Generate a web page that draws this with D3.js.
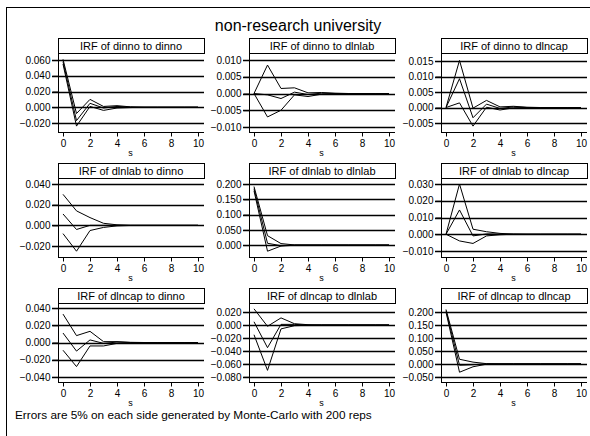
<!DOCTYPE html>
<html>
<head>
<meta charset="utf-8">
<script src="https://cdn.jsdelivr.net/npm/d3@7"></script>
<style>
  body { margin: 0; background: #fff; }
  svg text { font-family: "Liberation Sans", Arial, sans-serif; fill: #000; }
</style>
</head>
<body>
<div id="chart"></div>
<script>
// horizon steps
var steps = [0, 1, 2, 3, 4, 5, 6, 7, 8, 9, 10];
var xTicks = [0, 2, 4, 6, 8, 10];

var panelTitles = [
    "IRF of dinno to dinno", "IRF of dinno to dlnlab", "IRF of dinno to dlncap",
    "IRF of dlnlab to dinno", "IRF of dlnlab to dlnlab", "IRF of dlnlab to dlncap",
    "IRF of dlncap to dinno", "IRF of dlncap to dlnlab", "IRF of dlncap to dlncap"
];

// upper bound, irf, lower bound for each panel
var upper = [
    [0.061, -0.008, 0.010, 0.001, 0.002, 0.0005, 0, 0, 0, 0, 0],
    [0, 0.0085, 0.0015, 0.0017, 0.0002, 0.0003, 0.0001, 0, 0, 0, 0],
    [0, 0.0152, -0.0002, 0.0023, 0.0002, 0.0004, 0.0001, 0, 0, 0, 0],
    [0.030, 0.014, 0.0075, 0.002, 0.0005, 0.0001, 0, 0, 0, 0, 0],
    [0.192, 0.031, 0.005, 0.0005, 0, 0, 0, 0, 0, 0, 0],
    [0, 0.030, 0.003, 0.0015, 0.0005, 0.0001, 0, 0, 0, 0, 0],
    [0.033, 0.008, 0.013, 0.001, 0.001, 0.0002, 0, 0, 0, 0, 0],
    [0.025, -0.002, 0.011, 0.002, 0.0005, 0, 0, 0, 0, 0, 0],
    [0.210, 0.018, 0.007, 0.001, 0, 0, 0, 0, 0, 0, 0]
];
var irf = [
    [0.058, -0.017, 0.005, -0.001, 0.001, 0.0002, 0, 0, 0, 0, 0],
    [0, -0.0004, -0.0015, 0.0004, -0.0003, 0.0001, 0, 0, 0, 0, 0],
    [0, 0.0093, -0.0033, 0.0011, -0.0003, 0.0002, 0, 0, 0, 0, 0],
    [0.011, -0.004, 0.000, 0.000, 0.0001, 0, 0, 0, 0, 0, 0],
    [0.185, 0.006, -0.002, 0, 0, 0, 0, 0, 0, 0, 0],
    [0, 0.0145, -0.001, 0.0002, 0.0001, 0, 0, 0, 0, 0, 0],
    [0.011, -0.010, 0.003, -0.001, 0.0005, 0, 0, 0, 0, 0, 0],
    [0.005, -0.035, 0.001, 0.001, 0, 0, 0, 0, 0, 0, 0],
    [0.205, -0.005, -0.003, 0.0003, 0, 0, 0, 0, 0, 0, 0]
];
var lower = [
    [0.055, -0.024, 0.001, -0.004, -0.001, -0.0004, 0, 0, 0, 0, 0],
    [0, -0.007, -0.005, -0.0004, -0.0009, -0.0002, 0, 0, 0, 0, 0],
    [0, 0.0015, -0.006, 0.0001, -0.0008, -0.0001, 0, 0, 0, 0, 0],
    [-0.008, -0.025, -0.005, -0.002, -0.0005, -0.0001, 0, 0, 0, 0, 0],
    [0.178, -0.020, -0.003, -0.0005, 0, 0, 0, 0, 0, 0, 0],
    [0, -0.004, -0.0055, -0.001, -0.0003, 0, 0, 0, 0, 0, 0],
    [-0.009, -0.028, -0.004, -0.004, -0.001, -0.0002, 0, 0, 0, 0, 0],
    [-0.015, -0.070, -0.006, -0.001, -0.0005, 0, 0, 0, 0, 0, 0],
    [0.200, -0.032, -0.011, -0.001, 0, 0, 0, 0, 0, 0, 0]
];

// y axis ranges and tick labels per panel
var yDomains = [
    [-0.0315, 0.069], [-0.0115, 0.0121], [-0.0079, 0.0176],
    [-0.0306, 0.0458], [-0.039, 0.22], [-0.0136, 0.0336],
    [-0.0459, 0.0459], [-0.088, 0.034], [-0.0697, 0.235]
];
var yTicks = [
    [-0.02, 0, 0.02, 0.04, 0.06],
    [-0.01, -0.005, 0, 0.005, 0.01],
    [-0.005, 0, 0.005, 0.01, 0.015],
    [-0.02, 0, 0.02, 0.04],
    [0, 0.05, 0.1, 0.15, 0.2],
    [-0.01, 0, 0.01, 0.02, 0.03],
    [-0.04, -0.02, 0, 0.02, 0.04],
    [-0.08, -0.06, -0.04, -0.02, 0, 0.02],
    [-0.05, 0, 0.05, 0.1, 0.15, 0.2]
];

var svgWidth = 590;
var svgHeight = 436;

var svg = d3.select("#chart")
    .append("svg")
    .attr("width", svgWidth)
    .attr("height", svgHeight);

// outer frame (only top & left edges show)
svg.append("rect")
    .attr("x", 6.5).attr("y", 7.5)
    .attr("width", 700).attr("height", 600)
    .attr("fill", "none").attr("stroke", "#000");

svg.append("text")
    .attr("x", 298).attr("y", 31)
    .attr("text-anchor", "middle")
    .attr("font-size", "16px")
    .text("non-research university");

// panel layout
var colLeft = [58, 249, 441];
var panelW = 146;
var rowTop = [38, 163, 288];   // top of title box
var titleH = 15;
var plotH = 79;

var fmt = d3.format(".3f");

panelTitles.forEach(function (title, i) {
    var col = i % 3;
    var row = Math.floor(i / 3);
    var g = svg.append("g")
        .attr("transform", `translate(${colLeft[col]}, ${rowTop[row]})`);

    var xScale = d3.scaleLinear().domain([0, 10]).range([5, 140]);
    var yScale = d3.scaleLinear().domain(yDomains[i]).range([titleH + plotH, titleH]);

    // gridlines at the y ticks
    g.selectAll(".grid")
        .data(yTicks[i])
        .enter()
        .append("line")
        .attr("x1", -6).attr("x2", panelW)
        .attr("y1", d => Math.round(yScale(d)) + 0.5)
        .attr("y2", d => Math.round(yScale(d)) + 0.5)
        .attr("stroke", "#000")
        .attr("stroke-width", 1.3);

    // y axis
    var leftAxis = d3.axisLeft(yScale)
        .tickValues(yTicks[i])
        .tickFormat(fmt)
        .tickSize(6)
        .tickPadding(2);
    var yAxisG = g.append("g").attr("transform", "translate(0.5,0)").call(leftAxis);
    yAxisG.select(".domain").remove();
    yAxisG.selectAll("text").attr("font-size", "10px").attr("font-family", "Liberation Sans, Arial, sans-serif");
    g.append("line")
        .attr("x1", 0.5).attr("x2", 0.5)
        .attr("y1", titleH).attr("y2", titleH + plotH)
        .attr("stroke", "#000");

    // x axis
    var bottomAxis = d3.axisBottom(xScale)
        .tickValues(xTicks)
        .tickSize(4)
        .tickPadding(3);
    var xAxisG = g.append("g")
        .attr("transform", `translate(0, ${titleH + plotH + 0.5})`)
        .call(bottomAxis);
    xAxisG.select(".domain")
        .attr("d", `M0,0H${panelW}`);
    xAxisG.selectAll("text").attr("font-size", "10px").attr("font-family", "Liberation Sans, Arial, sans-serif");

    g.append("text")
        .attr("x", xScale(5))
        .attr("y", titleH + plotH + 24)
        .attr("text-anchor", "middle")
        .attr("font-size", "9px")
        .text("s");

    // title box
    g.append("rect")
        .attr("x", 0.5).attr("y", 0.5)
        .attr("width", panelW).attr("height", titleH)
        .attr("fill", "#fff").attr("stroke", "#000");
    g.append("text")
        .attr("x", panelW / 2)
        .attr("y", 12)
        .attr("text-anchor", "middle")
        .attr("font-size", "11px")
        .text(title);

    // lines
    var line = d3.line()
        .x((d, k) => xScale(steps[k]))
        .y(d => yScale(d));
    [upper[i], irf[i], lower[i]].forEach(function (series) {
        g.append("path")
            .attr("d", line(series))
            .attr("fill", "none")
            .attr("stroke", "#000")
            .attr("stroke-width", 1);
    });
});

svg.append("text")
    .attr("x", 15).attr("y", 419)
    .attr("font-size", "11.8px")
    .text("Errors are 5% on each side generated by Monte-Carlo with 200 reps");
</script>
</body>
</html>
